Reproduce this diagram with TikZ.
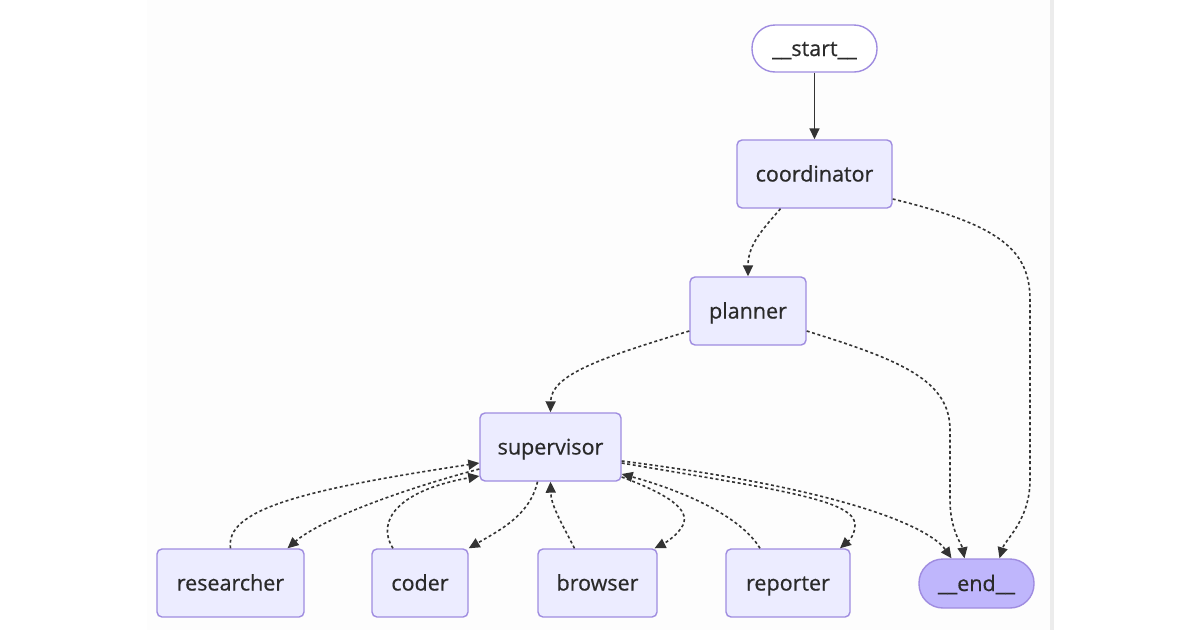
\documentclass[tikz,border=0pt]{standalone}
\usepackage{fontspec}
\setmainfont{Open Sans}
\newfontfamily\nodefont[FakeBold=0.6]{Open Sans}
\usetikzlibrary{arrows.meta,calc}
\definecolor{nodefill}{HTML}{ECECFF}
\definecolor{nodeline}{HTML}{9F8CE0}
\definecolor{endfill}{HTML}{BFB6FC}
\definecolor{ink}{HTML}{333333}
\definecolor{txt}{HTML}{2A2A2A}
\definecolor{panel}{HTML}{FDFDFD}
\definecolor{rule}{HTML}{ECECEC}
\begin{document}
\begin{tikzpicture}[x=1pt,y=-1pt,
  box/.style={draw=nodeline, line width=1.4pt, fill=nodefill, rounded corners=5pt,
    minimum height=68pt, inner sep=0pt, text=txt, text height=17pt, text depth=2pt,
    font=\nodefont\fontsize{21.5}{25}\selectfont},
  pill/.style={box, minimum height=47pt, rounded corners=23pt},
  tip/.style={-{Triangle[length=11pt,width=10pt]}},
  cond/.style={tip, draw=ink, fill=none, line width=1.6pt, dash pattern=on 3pt off 2.6pt},
  flow/.style={tip, draw=ink, line width=1.6pt}]
\useasboundingbox (0,0) rectangle (1200,630);
\fill[white] (0,0) rectangle (1200,630);
\fill[panel] (147,0) rectangle (1050,630);
\fill[rule] (1050,0) rectangle (1054,630);

\node[pill, fill=white, minimum width=125pt] (start) at (814.5,48.5) {\_\_start\_\_};
\node[box, minimum width=155pt] (coord) at (814.5,174) {coordinator};
\node[box, minimum width=116pt] (plan) at (748,311) {planner};
\node[box, minimum width=141pt] (sup) at (550.5,447) {supervisor};
\node[box, minimum width=147pt] (res) at (230.5,583) {researcher};
\node[box, minimum width=96pt] (cod) at (420,583) {coder};
\node[box, minimum width=119pt] (brw) at (597.5,583) {browser};
\node[box, minimum width=124pt] (rep) at (788,583) {reporter};
\node[pill, fill=endfill, minimum width=115pt, minimum height=49pt, rounded corners=24pt] (end) at (976.5,583.5) {\_\_end\_\_};

% start -> coordinator
\draw[flow] (start.south) -- (coord.north);
% coordinator -> planner
\draw[cond] ([xshift=-34pt]coord.south) .. controls (762,230) and (748,245) .. (plan.north);
% coordinator -> end
\draw[cond] ([yshift=-25pt]coord.east) .. controls (1000,225) and (1030,250) .. (1030,300)
  -- (1030,480) .. controls (1030,520) and (1005,540) .. ([xshift=23pt]end.north);
% planner -> supervisor
\draw[cond] ([yshift=-20pt]plan.west) .. controls (600,358) and (551,375) .. (sup.north);
% planner -> end
\draw[cond] ([yshift=-20pt]plan.east) .. controls (900,360) and (950,380) .. (950,430)
  -- (950,500) .. controls (950,530) and (962,545) .. ([xshift=-12pt]end.north);
% supervisor -> end
\draw[cond] ([yshift=-14pt]sup.east) .. controls (850,490) and (930,528) .. ([xshift=-25pt]end.north);
% supervisor -> reporter
\draw[cond] ([yshift=-16pt]sup.east) .. controls (780,490) and (855,500) .. (855,525)
  .. controls (855,537) and (846,543) .. ([xshift=52pt]rep.north);
% reporter -> supervisor
\draw[cond] ([xshift=-28pt]rep.north) .. controls (740,515) and (680,490) .. ([yshift=-27pt]sup.east);
% supervisor -> browser
\draw[cond] ([yshift=-30pt]sup.east) .. controls (670,495) and (690,510) .. (683,525)
  .. controls (678,535) and (665,543) .. ([xshift=57pt]brw.north);
% browser -> supervisor
\draw[cond] ([xshift=-23pt]brw.north) .. controls (560,520) and (551,505) .. (sup.south);
% supervisor -> coder
\draw[cond] ([xshift=-13pt]sup.south) .. controls (530,515) and (500,530) .. (cod.north east);
% coder -> supervisor
\draw[cond] ([xshift=-27pt]cod.north) .. controls (375,520) and (400,490) .. ([yshift=-29pt]sup.west);
% supervisor -> researcher
\draw[cond] ([yshift=-22pt]sup.west) .. controls (400,490) and (320,520) .. ([xshift=57pt]res.north);
% researcher -> supervisor
\draw[cond] (res.north) .. controls (225,510) and (300,490) .. ([yshift=-16pt]sup.west);
\end{tikzpicture}
\end{document}
